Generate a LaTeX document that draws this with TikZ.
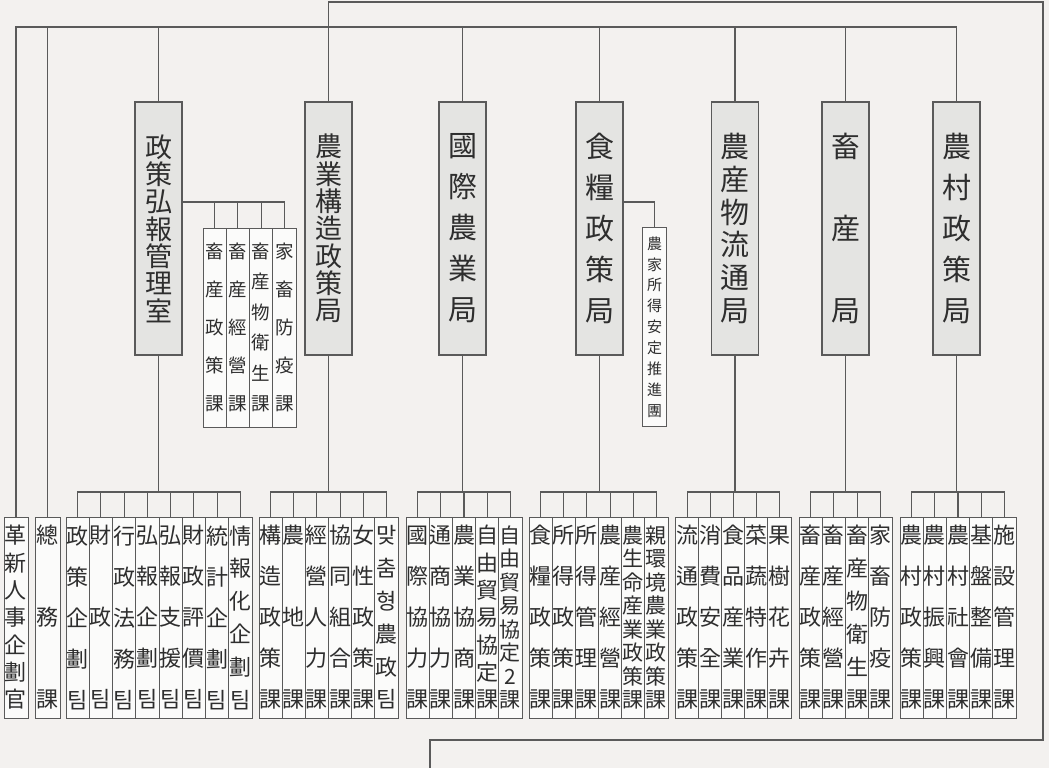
\documentclass[tikz,border=0pt]{standalone}
\usepackage{fontspec}
\setmainfont{Noto Sans CJK KR}
\definecolor{bgc}{HTML}{F3F1EF}
\definecolor{linec}{HTML}{5A5A5A}
\definecolor{topfill}{HTML}{E4E4E2}
\definecolor{boxfill}{HTML}{FBFBFA}
\definecolor{txt}{HTML}{2E2E2E}
\newcommand\vfs[2]{\fontsize{#1}{#2}\selectfont\lineskiplimit=-500pt\relax}
\begin{document}
\begin{tikzpicture}[x=1pt,y=-1pt,
  conn/.style={draw=linec, line width=1.1pt},
  topbox/.style={draw=linec, fill=topfill, line width=1.1pt, minimum width=47pt, minimum height=253pt, inner sep=0pt, align=center, text=txt},
  botbox/.style={draw=linec, fill=boxfill, line width=0.9pt, minimum width=23.3pt, minimum height=201pt, inner sep=0pt, align=center, text=txt},
  midbox/.style={draw=linec, fill=boxfill, line width=0.9pt, minimum width=23.3pt, minimum height=199pt, inner sep=0pt, align=center, text=txt},
  t3/.style={font=\vfs{29}{82}},
  t5/.style={font=\vfs{29}{41}},
  t6/.style={font=\vfs{29}{32.8}},
  t7/.style={font=\vfs{27}{27.33}},
  b3/.style={font=\vfs{22}{82}},
  b5/.style={font=\vfs{22}{41}},
  b6/.style={font=\vfs{22}{32.8}},
  b7/.style={font=\vfs{22}{27.33}},
  b8/.style={font=\vfs{21}{23.43}},
  m5/.style={font=\vfs{18.5}{38}},
  m6/.style={font=\vfs{18.5}{30.4}},
  m9/.style={font=\vfs{15}{20.9}}]
\fill[bgc] (0,0) rectangle (1049,768);
\useasboundingbox (0,0) rectangle (1049,768);

% ---- top level (bureaus)
\node[topbox,t7] (jb) at (158.5,228.5) {政\\策\\弘\\報\\管\\理\\室};
\node[topbox,t7] (jg) at (328.5,228.5) {農\\業\\構\\造\\政\\策\\局};
\node[topbox,t5] (gj) at (462.5,228.5) {國\\際\\農\\業\\局};
\node[topbox,t5] (sr) at (599.5,228.5) {食\\糧\\政\\策\\局};
\node[topbox,t6] (nm) at (735,228.5) {農\\産\\物\\流\\通\\局};
\node[topbox,t3] (cs) at (845.5,228.5) {畜\\産\\局};
\node[topbox,t5] (nc) at (956.5,228.5) {農\\村\\政\\策\\局};

% ---- middle sub boxes
\node[midbox,m5] (ms1) at (214.6,327.5) {畜\\産\\政\\策\\課};
\node[midbox,m5] (ms2) at (237.9,327.5) {畜\\産\\經\\營\\課};
\node[midbox,m6] (ms3) at (261.1,327.5) {畜\\産\\物\\衛\\生\\課};
\node[midbox,m5] (ms4) at (284.4,327.5) {家\\畜\\防\\疫\\課};
\node[midbox,m9] (nk) at (654.5,327) {農\\家\\所\\得\\安\\定\\推\\進\\團};

% ---- bottom boxes
\node[botbox,b7,minimum width=24pt] (hx) at (16,617.5) {革\\新\\人\\事\\企\\劃\\官};
\node[botbox,b3,minimum width=25pt] (cw) at (47.5,617.5) {總\\務\\課};

\node[botbox,b5] (a1) at (77.6,617.5) {政\\策\\企\\劃\\팀};
\node[botbox,b3] (a2) at (100.9,617.5) {財\\政\\팀};
\node[botbox,b5] (a3) at (124.1,617.5) {行\\政\\法\\務\\팀};
\node[botbox,b5] (a4) at (147.4,617.5) {弘\\報\\企\\劃\\팀};
\node[botbox,b5] (a5) at (170.6,617.5) {弘\\報\\支\\援\\팀};
\node[botbox,b5] (a6) at (193.9,617.5) {財\\政\\評\\價\\팀};
\node[botbox,b5] (a7) at (217.1,617.5) {統\\計\\企\\劃\\팀};
\node[botbox,b6] (a8) at (240.4,617.5) {情\\報\\化\\企\\劃\\팀};

\node[botbox,b5] (b1) at (270.6,617.5) {構\\造\\政\\策\\課};
\node[botbox,b3] (b2) at (293.75,617.5) {農\\地\\課};
\node[botbox,b5] (b3) at (316.9,617.5) {經\\營\\人\\力\\課};
\node[botbox,b5] (b4) at (340.1,617.5) {協\\同\\組\\合\\課};
\node[botbox,b5] (b5) at (363.25,617.5) {女\\性\\政\\策\\課};
\node[botbox,b6] (b6) at (386.4,617.5) {맞\\춤\\형\\農\\政\\팀};

\node[botbox,b5] (c1) at (417.6,617.5) {國\\際\\協\\力\\課};
\node[botbox,b5] (c2) at (440.8,617.5) {通\\商\\協\\力\\課};
\node[botbox,b5] (c3) at (464,617.5) {農\\業\\協\\商\\課};
\node[botbox,b7] (c4) at (487.2,617.5) {自\\由\\貿\\易\\協\\定\\課};
\node[botbox,b8] (c5) at (510.4,617.5) {自\\由\\貿\\易\\協\\定\\2\\課};

\node[botbox,b5] (d1) at (540.6,617.5) {食\\糧\\政\\策\\課};
\node[botbox,b5] (d2) at (563.75,617.5) {所\\得\\政\\策\\課};
\node[botbox,b5] (d3) at (586.9,617.5) {所\\得\\管\\理\\課};
\node[botbox,b5] (d4) at (610.1,617.5) {農\\産\\經\\營\\課};
\node[botbox,b8] (d5) at (633.25,617.5) {農\\生\\命\\産\\業\\政\\策\\課};
\node[botbox,b8] (d6) at (656.4,617.5) {親\\環\\境\\農\\業\\政\\策\\課};

\node[botbox,b5] (e1) at (687.5,617.5) {流\\通\\政\\策\\課};
\node[botbox,b5] (e2) at (710.5,617.5) {消\\費\\安\\全\\課};
\node[botbox,b5] (e3) at (733.5,617.5) {食\\品\\産\\業\\課};
\node[botbox,b5] (e4) at (756.5,617.5) {菜\\蔬\\特\\作\\課};
\node[botbox,b5] (e5) at (779.5,617.5) {果\\樹\\花\\卉\\課};

\node[botbox,b5] (f1) at (810.6,617.5) {畜\\産\\政\\策\\課};
\node[botbox,b5] (f2) at (833.9,617.5) {畜\\産\\經\\營\\課};
\node[botbox,b6] (f3) at (857.1,617.5) {畜\\産\\物\\衛\\生\\課};
\node[botbox,b5] (f4) at (880.4,617.5) {家\\畜\\防\\疫\\課};

\node[botbox,b5] (g1) at (911.6,617.5) {農\\村\\政\\策\\課};
\node[botbox,b5] (g2) at (934.8,617.5) {農\\村\\振\\興\\課};
\node[botbox,b5] (g3) at (958,617.5) {農\\村\\社\\會\\課};
\node[botbox,b5] (g4) at (981.2,617.5) {基\\盤\\整\\備\\課};
\node[botbox,b5] (g5) at (1004.4,617.5) {施\\設\\管\\理\\課};

% ---- helper coordinates
\coordinate (tb) at (0,27);
\coordinate (fy) at (0,2);
\coordinate (by) at (0,492);
\coordinate (sy) at (0,202);
\coordinate (fr) at (1043,740);
\coordinate (fb) at (430,768);

% ---- top bus and frame
\draw[conn] (hx.north) -- (hx.north |- tb) -- (nc.north |- tb) -- (nc.north);
\foreach \n in {cw,jb,jg,gj,sr,nm,cs} \draw[conn] (\n.north) -- (\n.north |- tb);
\draw[conn] (jg.north |- tb) -- (jg.north |- fy) -- (fr |- fy) -- (fr) -- (fb |- fr) -- (fb);

% ---- side branches
\draw[conn] (jb.east |- sy) -| (ms4.north);
\foreach \n in {ms1,ms2,ms3} \draw[conn] (\n.north) -- (\n.north |- sy);
\draw[conn] (sr.east |- sy) -| (nk.north);

% ---- bottom buses
\draw[conn] (a1.north) -- (a1.north |- by) -- (a8.north |- by) -- (a8.north);
\foreach \n in {a2,a3,a4,a5,a6,a7} \draw[conn] (\n.north) -- (\n.north |- by);
\draw[conn] (jb.south) -- (jb.south |- by);

\draw[conn] (b1.north) -- (b1.north |- by) -- (b6.north |- by) -- (b6.north);
\foreach \n in {b2,b3,b4,b5} \draw[conn] (\n.north) -- (\n.north |- by);
\draw[conn] (jg.south) -- (jg.south |- by);

\draw[conn] (c1.north) -- (c1.north |- by) -- (c5.north |- by) -- (c5.north);
\foreach \n in {c2,c3,c4} \draw[conn] (\n.north) -- (\n.north |- by);
\draw[conn] (gj.south) -- (gj.south |- by);

\draw[conn] (d1.north) -- (d1.north |- by) -- (d6.north |- by) -- (d6.north);
\foreach \n in {d2,d3,d4,d5} \draw[conn] (\n.north) -- (\n.north |- by);
\draw[conn] (sr.south) -- (sr.south |- by);

\draw[conn] (e1.north) -- (e1.north |- by) -- (e5.north |- by) -- (e5.north);
\foreach \n in {e2,e3,e4} \draw[conn] (\n.north) -- (\n.north |- by);
\draw[conn] (nm.south) -- (nm.south |- by);

\draw[conn] (f1.north) -- (f1.north |- by) -- (f4.north |- by) -- (f4.north);
\foreach \n in {f2,f3} \draw[conn] (\n.north) -- (\n.north |- by);
\draw[conn] (cs.south) -- (cs.south |- by);

\draw[conn] (g1.north) -- (g1.north |- by) -- (g5.north |- by) -- (g5.north);
\foreach \n in {g2,g3,g4} \draw[conn] (\n.north) -- (\n.north |- by);
\draw[conn] (nc.south) -- (nc.south |- by);
\end{tikzpicture}
\end{document}
